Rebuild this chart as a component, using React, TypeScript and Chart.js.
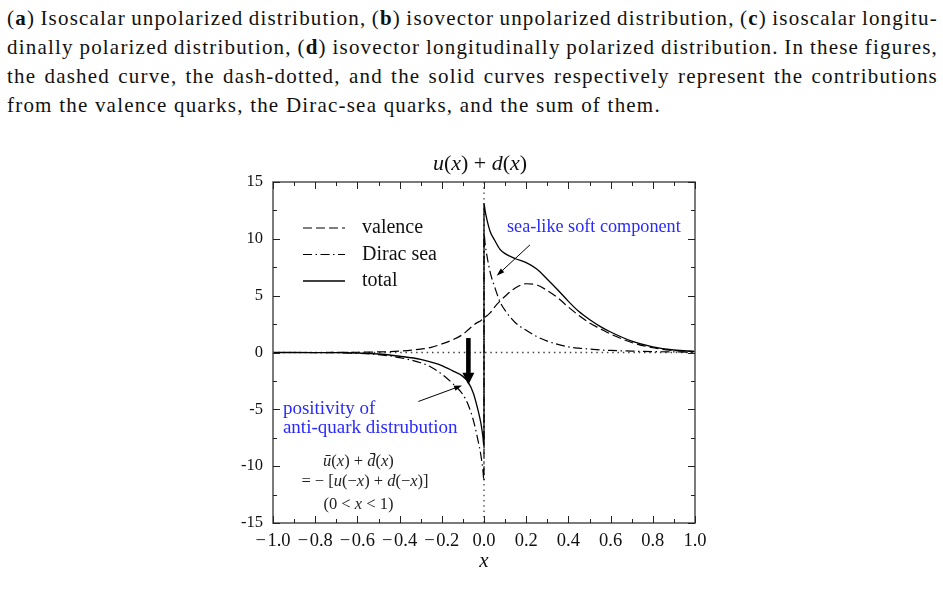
import React, { useEffect, useRef } from 'react';
import { Chart, registerables } from 'chart.js';
Chart.register(...registerables);

// ---------- data ----------
const xValues = [
  -1, -0.9, -0.8, -0.7, -0.6, -0.5, -0.4, -0.3, -0.25, -0.2, -0.15, -0.1, -0.075, -0.05, -0.03, -0.015, -0.005, 0,
  0, 0.005, 0.015, 0.03, 0.05, 0.075, 0.1, 0.15, 0.2, 0.25, 0.3, 0.35, 0.4, 0.45, 0.5, 0.55, 0.6, 0.7, 0.8, 0.9, 1.0,
];
const valence = [
  0, 0, 0, 0.005, 0.02, 0.05, 0.12, 0.3, 0.45, 0.75, 1.1, 1.6, 2.0, 2.4, 2.65, 2.8, 2.95, 3.0,
  3.0, 3.1, 3.25, 3.5, 4.0, 4.5, 4.95, 5.7, 6.05, 5.95, 5.45, 4.8, 4.0, 3.25, 2.6, 2.1, 1.62, 0.88, 0.42, 0.17, 0.07,
];
const diracSea = [
  0, 0, -0.005, -0.02, -0.07, -0.18, -0.45, -0.9, -1.3, -1.9, -2.7, -3.7, -4.6, -6.0, -7.6, -9.0, -10.4, -11.3,
  10.5, 9.6, 8.4, 7.0, 5.8, 4.5, 3.7, 2.6, 1.95, 1.4, 1.0, 0.72, 0.5, 0.38, 0.3, 0.22, 0.18, 0.12, 0.08, 0.05, 0.03,
];
const total = [
  0, 0, -0.005, -0.015, -0.05, -0.13, -0.33, -0.6, -0.85, -1.15, -1.6, -2.1, -2.6, -3.6, -4.95, -6.2, -7.45, -8.3,
  13.1, 12.5, 11.6, 10.6, 9.9, 9.1, 8.7, 8.25, 7.9, 7.35, 6.45, 5.5, 4.5, 3.6, 2.9, 2.3, 1.8, 1.0, 0.5, 0.22, 0.1,
];
const seriesLabels = ['valence', 'Dirac sea', 'total'];

const xTickValues = [-1, -0.9, -0.8, -0.7, -0.6, -0.5, -0.4, -0.3, -0.2, -0.1, 0, 0.1, 0.2, 0.3, 0.4, 0.5, 0.6, 0.7, 0.8, 0.9, 1];
const xLabelValues = [-1, -0.8, -0.6, -0.4, -0.2, 0, 0.2, 0.4, 0.6, 0.8, 1];
const yTickValues = [-15, -12.5, -10, -7.5, -5, -2.5, 0, 2.5, 5, 7.5, 10, 12.5, 15];
const yLabelValues = [-15, -10, -5, 0, 5, 10, 15];

// annotations (data coordinates)
const bigArrow = { x: -0.074, from: 1.27, to: -2.84 };
const seaArrow = { from: [0.218, 9.47], to: [0.06, 6.75] };
const posArrow = { from: [-0.311, -4.31], to: [-0.104, -2.9] };
const seaNote = { x: 0.109, y: 11.06, lines: ['sea-like soft component'] };
const posNote = { x: -0.953, y: -4.95, lines: ['positivity of', 'anti-quark distrubution'] };
const seaNoteSize = 18.2;
const posNoteSize = 19;

type Part = [string, boolean];
const titleParts: Part[] = [['u', true], ['(', false], ['x', true], [') + ', false], ['d', true], ['(', false], ['x', true], [')', false]];
const formulaRows: { x: number; y: number; parts: Part[] }[] = [
  { x: -0.595, y: -9.61, parts: [['\u016B', true], ['(', false], ['x', true], [') + ', false], ['d\u0304', true], ['(', false], ['x', true], [')', false]] },
  { x: -0.564, y: -11.37, parts: [['= \u2212 [', false], ['u', true], ['(\u2212', false], ['x', true], [') + ', false], ['d', true], ['(\u2212', false], ['x', true], [')]', false]] },
  { x: -0.595, y: -13.39, parts: [['(0 < ', false], ['x', true], [' < 1)', false]] },
];

const captionRows = [
  '(a) Isoscalar unpolarized distribution, (b) isovector unpolarized distribution, (c) isoscalar longitu-',
  'dinally polarized distribution, (d) isovector longitudinally polarized distribution. In these figures,',
  'the dashed curve, the dash-dotted, and the solid curves respectively represent the contributions',
  'from the valence quarks, the Dirac-sea quarks, and the sum of them.',
];
const captionRowWidths = [931, 931, 931, 654];

const SERIF = '"Liberation Serif", "Times New Roman", serif';
const BLUE = '#2a2aff';

function drawRich(ctx: CanvasRenderingContext2D, parts: Part[], cx: number, cy: number, size: number, color: string) {
  const fonts = parts.map(([, it]) => `${it ? 'italic ' : ''}${size}px ${SERIF}`);
  let w = 0;
  const ws = parts.map(([t], i) => {
    ctx.font = fonts[i];
    const m = ctx.measureText(t).width;
    w += m;
    return m;
  });
  let x = cx - w / 2;
  ctx.fillStyle = color;
  ctx.textBaseline = 'middle';
  ctx.textAlign = 'left';
  parts.forEach(([t], i) => {
    ctx.font = fonts[i];
    ctx.fillText(t, x, cy);
    x += ws[i];
  });
}

function smallArrow(ctx: CanvasRenderingContext2D, x1: number, y1: number, x2: number, y2: number) {
  const ang = Math.atan2(y2 - y1, x2 - x1);
  const L = 8, W = 2.6;
  ctx.strokeStyle = '#000';
  ctx.fillStyle = '#000';
  ctx.lineWidth = 1;
  ctx.setLineDash([]);
  ctx.beginPath();
  ctx.moveTo(x1, y1);
  ctx.lineTo(x2 - Math.cos(ang) * L * 0.8, y2 - Math.sin(ang) * L * 0.8);
  ctx.stroke();
  ctx.beginPath();
  ctx.moveTo(x2, y2);
  ctx.lineTo(x2 - Math.cos(ang) * L - Math.sin(ang) * W, y2 - Math.sin(ang) * L + Math.cos(ang) * W);
  ctx.lineTo(x2 - Math.cos(ang) * L + Math.sin(ang) * W, y2 - Math.sin(ang) * L - Math.cos(ang) * W);
  ctx.closePath();
  ctx.fill();
}

const near = (arr: number[], v: number) => arr.some((a) => Math.abs(a - v) < 1e-6);

const overlayPlugin = {
  id: 'overlay',
  beforeDatasetsDraw(chart: any) {
    const { ctx, chartArea: a, scales } = chart;
    const x0 = scales.x.getPixelForValue(0);
    const y0 = scales.y.getPixelForValue(0);
    ctx.save();
    ctx.strokeStyle = '#444';
    ctx.lineWidth = 1.3;
    ctx.setLineDash([1.5, 3.8]);
    ctx.beginPath();
    ctx.moveTo(a.left, y0);
    ctx.lineTo(a.right, y0);
    ctx.moveTo(x0, a.top);
    ctx.lineTo(x0, a.bottom);
    ctx.stroke();
    ctx.restore();
  },
  afterDatasetsDraw(chart: any) {
    const { ctx, chartArea: a, scales } = chart;
    const sx = scales.x, sy = scales.y;
    ctx.save();
    // frame
    ctx.setLineDash([]);
    ctx.strokeStyle = '#5a5a5a';
    ctx.lineWidth = 1.6;
    ctx.strokeRect(a.left, a.top, a.right - a.left, a.bottom - a.top);
    // inward ticks
    ctx.strokeStyle = '#222';
    ctx.lineWidth = 1;
    ctx.beginPath();
    sx.ticks.forEach((t: any) => {
      const p = Math.round(sx.getPixelForValue(t.value)) + 0.5;
      const len = near(xLabelValues, t.value) ? 7 : 4;
      ctx.moveTo(p, a.bottom);
      ctx.lineTo(p, a.bottom - len);
      ctx.moveTo(p, a.top);
      ctx.lineTo(p, a.top + len);
    });
    sy.ticks.forEach((t: any) => {
      const p = Math.round(sy.getPixelForValue(t.value)) + 0.5;
      const len = near(yLabelValues, t.value) ? 7 : 4;
      ctx.moveTo(a.left, p);
      ctx.lineTo(a.left + len, p);
      ctx.moveTo(a.right, p);
      ctx.lineTo(a.right - len, p);
    });
    ctx.stroke();

    // big arrow
    const bx = sx.getPixelForValue(bigArrow.x);
    const by1 = sy.getPixelForValue(bigArrow.from);
    const by2 = sy.getPixelForValue(bigArrow.to);
    const headH = 12, headW = 6;
    ctx.fillStyle = '#000';
    ctx.fillRect(bx - 2.3, by1, 4.6, by2 - by1 - headH + 1);
    ctx.beginPath();
    ctx.moveTo(bx - headW, by2 - headH);
    ctx.lineTo(bx + headW, by2 - headH);
    ctx.lineTo(bx, by2);
    ctx.closePath();
    ctx.fill();

    // small arrows
    [seaArrow, posArrow].forEach((ar) => {
      smallArrow(
        ctx,
        sx.getPixelForValue(ar.from[0]), sy.getPixelForValue(ar.from[1]),
        sx.getPixelForValue(ar.to[0]), sy.getPixelForValue(ar.to[1]),
      );
    });

    // blue notes
    ctx.fillStyle = BLUE;
    ctx.textAlign = 'left';
    ctx.textBaseline = 'middle';
    ([[seaNote, seaNoteSize], [posNote, posNoteSize]] as [typeof seaNote, number][]).forEach(([n, size]) => {
      ctx.font = `${size}px ${SERIF}`;
      const px = sx.getPixelForValue(n.x);
      const py = sy.getPixelForValue(n.y);
      n.lines.forEach((l, i) => ctx.fillText(l, px, py + i * 19.5));
    });

    // formula
    formulaRows.forEach((r) => {
      drawRich(ctx, r.parts, sx.getPixelForValue(r.x), sy.getPixelForValue(r.y), 16.5, '#222');
    });

    // title
    drawRich(ctx, titleParts, (a.left + a.right) / 2 - 4, a.top - 18, 22, '#111');

    // legend
    const lx = a.left + 30;
    const ly = a.top + 46;
    chart.data.datasets.forEach((ds: any, i: number) => {
      const yy = ly + i * 26.5;
      ctx.setLineDash(ds.borderDash || []);
      ctx.lineWidth = ds.borderWidth;
      ctx.strokeStyle = ds.borderColor;
      ctx.beginPath();
      ctx.moveTo(lx, yy);
      ctx.lineTo(lx + 42, yy);
      ctx.stroke();
      ctx.setLineDash([]);
      ctx.fillStyle = '#111';
      ctx.font = `20px ${SERIF}`;
      ctx.textAlign = 'left';
      ctx.textBaseline = 'middle';
      ctx.fillText(ds.label, lx + 59, yy);
    });
    ctx.restore();
  },
};

function ChartView() {
  const ref = useRef<HTMLCanvasElement | null>(null);
  useEffect(() => {
    if (!ref.current) return;
    const mk = (vals: number[]) => xValues.map((x, i) => ({ x, y: vals[i] }));
    const chart = new Chart(ref.current, {
      type: 'line',
      data: {
        datasets: [
          { label: seriesLabels[0], data: mk(valence), borderColor: '#000', borderWidth: 1.2, borderDash: [9, 4], pointRadius: 0, cubicInterpolationMode: 'monotone', fill: false },
          { label: seriesLabels[1], data: mk(diracSea), borderColor: '#000', borderWidth: 1.2, borderDash: [9, 3.5, 1.5, 3.5], pointRadius: 0, cubicInterpolationMode: 'monotone', fill: false },
          { label: seriesLabels[2], data: mk(total), borderColor: '#000', borderWidth: 1.3, borderDash: [], pointRadius: 0, cubicInterpolationMode: 'monotone', fill: false },
        ],
      },
      options: {
        responsive: false,
        animation: false,
        devicePixelRatio: 1,
        layout: { padding: { left: 0, right: 248, top: 182, bottom: 0 } },
        plugins: { legend: { display: false }, tooltip: { enabled: false }, title: { display: false } },
        scales: {
          x: {
            type: 'linear',
            min: -1,
            max: 1,
            grid: { display: false, drawTicks: false },
            border: { display: false },
            afterBuildTicks: (s: any) => { s.ticks = xTickValues.map((v) => ({ value: v })); },
            afterFit: (s: any) => { s.height = 81; },
            ticks: {
              autoSkip: false,
              maxRotation: 0,
              padding: 7,
              color: '#111',
              font: { family: SERIF, size: 18.5 },
              callback: (v: any) => {
                const n = Number(v);
                if (!near(xLabelValues, n)) return '';
                return n < -1e-9 ? '\u2212\u200a' + Math.abs(n).toFixed(1) : Math.abs(n).toFixed(1);
              },
            },
            title: { display: true, text: 'x', color: '#111', font: { family: SERIF, size: 21, style: 'italic' }, padding: { top: 0, bottom: 30 } },
          },
          y: {
            type: 'linear',
            min: -15,
            max: 15,
            grid: { display: false, drawTicks: false },
            border: { display: false },
            afterBuildTicks: (s: any) => { s.ticks = yTickValues.map((v) => ({ value: v })); },
            afterFit: (s: any) => { s.width = 273; },
            ticks: {
              autoSkip: false,
              padding: 10,
              color: '#111',
              font: { family: SERIF, size: 16.5 },
              callback: (v: any) => (near(yLabelValues, Number(v)) ? String(v) : ''),
            },
          },
        },
      },
      plugins: [overlayPlugin],
    } as any);
    return () => chart.destroy();
  }, []);
  return <canvas ref={ref} width={943} height={604} style={{ position: 'absolute', left: 0, top: 0, width: 943, height: 604 }} />;
}

function renderWord(w: string, key: number) {
  const m = /^\(([a-d])\)$/.exec(w);
  if (m) return <span key={key}>(<b>{m[1]}</b>)</span>;
  return <span key={key}>{w}</span>;
}

export default function App() {
  return (
    <div style={{ position: 'absolute', left: 0, top: 0, width: 943, height: 604, background: '#fff', overflow: 'hidden' }}>
      <div style={{ position: 'absolute', left: 7, top: 4, fontFamily: SERIF, fontSize: 21, letterSpacing: '1.2px', lineHeight: '29px', color: '#111' }}>
        {captionRows.map((row, i) => (
          <div key={i} style={{ display: 'flex', justifyContent: 'space-between', width: captionRowWidths[i], height: 29, whiteSpace: 'pre' }}>
            {row.split(' ').map((w, j) => renderWord(w, j))}
          </div>
        ))}
      </div>
      <ChartView />
    </div>
  );
}
